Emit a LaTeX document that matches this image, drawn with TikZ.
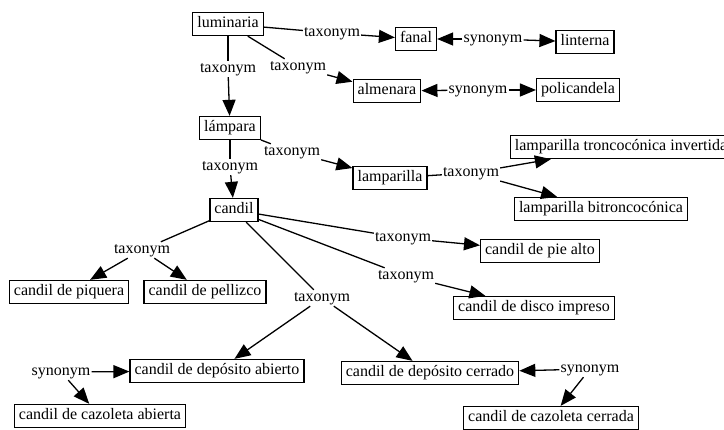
\documentclass[tikz,border=0pt]{standalone}
\usepackage{fontspec}
\setmainfont{Liberation Serif}
\usetikzlibrary{arrows.meta}
\begin{document}
\begin{tikzpicture}[x=1pt,y=-1pt,
  box/.style={draw, line width=1.3pt, inner xsep=4.5pt, inner ysep=4pt, text height=11.5pt, text depth=3.5pt, font=\fontsize{16}{19}\selectfont},
  lbl/.style={inner sep=1pt, font=\fontsize{16}{19}\selectfont, text height=11pt, text depth=3pt},
  ln/.style={line width=1.3pt},
  arr/.style={line width=1.3pt, -{Triangle[length=16pt,width=13pt]}},
]
\useasboundingbox (0,0) rectangle (724,430);
% boxes
\node[box] (lum) at (228,24) {luminaria};
\node[box] (fan) at (416,39) {fanal};
\node[box] (lin) at (585,42) {linterna};
\node[box] (alm) at (387,91) {almenara};
\node[box] (pol) at (578,90) {policandela};
\node[box] (lam) at (230,128) {lámpara};
\node[box] (lpa) at (390,178) {lamparilla};
\node[box] (tro) at (621,147) {lamparilla troncocónica invertida};
\node[box] (bit) at (601,209) {lamparilla bitroncocónica};
\node[box] (can) at (234,210) {candil};
\node[box] (piq) at (69,292) {candil de piquera};
\node[box] (pel) at (205,292) {candil de pellizco};
\node[box] (pie) at (540,251) {candil de pie alto};
\node[box] (dis) at (534,308) {candil de disco impreso};
\node[box] (dab) at (217,371) {candil de depósito abierto};
\node[box] (dce) at (430,373) {candil de depósito cerrado};
\node[box] (cab) at (100,416) {candil de cazoleta abierta};
\node[box] (cce) at (551,418) {candil de cazoleta cerrada};
% labels
\node[lbl] (t1) at (332,33) {taxonym};
\node[lbl] (s1) at (493,39) {synonym};
\node[lbl] (t2) at (228,69) {taxonym};
\node[lbl] (t3) at (298,67) {taxonym};
\node[lbl] (s2) at (478,90) {synonym};
\node[lbl] (t4) at (292,152) {taxonym};
\node[lbl] (t5) at (230,167) {taxonym};
\node[lbl] (t6) at (471,173) {taxonym};
\node[lbl] (t7) at (142,250) {taxonym};
\node[lbl] (t8) at (322,298) {taxonym};
\node[lbl] (t9) at (403,238) {taxonym};
\node[lbl] (t10) at (406,276) {taxonym};
\node[lbl] (s3) at (61,372) {synonym};
\node[lbl] (s4) at (590,369) {synonym};
% edges
\draw[ln] (lum) -- (t1); \draw[arr] (t1) -- (fan);
\draw[arr] (s1) -- (fan); \draw[arr] (s1) -- (lin);
\draw[ln] (lum) -- (t2); \draw[arr] (t2) -- (lam);
\draw[ln] (lum) -- (t3); \draw[arr] (t3) -- (alm);
\draw[arr] (s2) -- (alm); \draw[arr] (s2) -- (pol);
\draw[ln] (lam) -- (t4); \draw[arr] (t4) -- (lpa);
\draw[ln] (lam) -- (t5); \draw[arr] (t5) -- (can);
\draw[ln] (lpa) -- (t6); \draw[arr] (t6) -- (tro); \draw[arr] (t6) -- (bit);
\draw[ln] (can) -- (t7); \draw[arr] (t7) -- (piq); \draw[arr] (t7) -- (pel);
\draw[ln] (can) -- (t8); \draw[arr] (t8) -- (dab); \draw[arr] (t8) -- (dce);
\draw[ln] (can) -- (t9); \draw[arr] (t9) -- (pie);
\draw[ln] (can) -- (t10); \draw[arr] (t10) -- (dis);
\draw[arr] (s3) -- (dab); \draw[arr] (s3) -- (cab);
\draw[arr] (s4) -- (dce); \draw[arr] (s4) -- (cce);
\end{tikzpicture}
\end{document}
